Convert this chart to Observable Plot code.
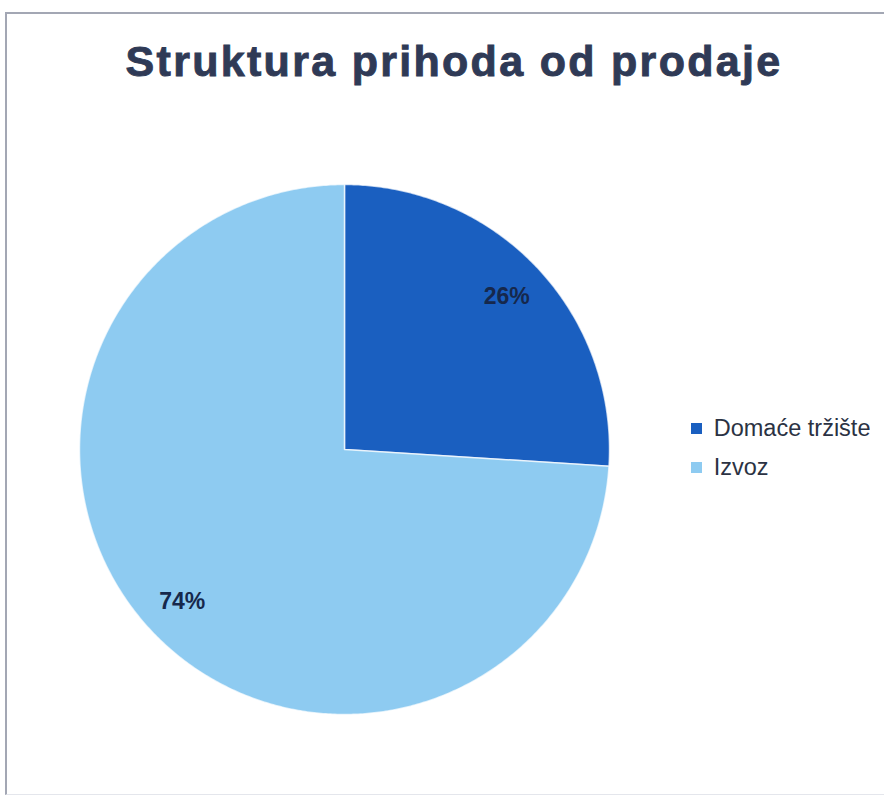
<!DOCTYPE html>
<html>
<head>
<meta charset="utf-8">
<script src="https://cdn.jsdelivr.net/npm/d3@7"></script>
<script src="https://cdn.jsdelivr.net/npm/@observablehq/plot@0.6"></script>
<style>
  html, body { margin: 0; padding: 0; background: #fff; }
  #wrap { position: relative; width: 884px; height: 799px; overflow: hidden; font-family: "Liberation Sans", Arial, sans-serif; }
  #frame { position: absolute; left: 5px; top: 12px; width: 900px; height: 783px;
           border-left: 2px solid #a3a7b4; border-top: 2px solid #a3a7b4; border-bottom: 1px solid #e4e6ec; box-sizing: border-box; }
  #title { position: relative; height: 100px; box-sizing: border-box; padding-top: 40px; padding-left: 24px;
           text-align: center; font-size: 43px; line-height: 43px; font-weight: bold; letter-spacing: 2.3px;
           color: #2f3a56; -webkit-text-stroke: 0.9px #2f3a56; }
  #chart { position: relative; }
  #legend { position: absolute; left: 691px; top: 415px; }
  #legend, #legend * { font-family: "Liberation Sans", Arial, sans-serif !important; }
  #legend .lg-swatch { font-size: 23.5px; color: #2b3243; margin-bottom: 11px; }
</style>
</head>
<body>
<div id="wrap">
  <div id="frame"></div>
  <div id="title">Struktura prihoda od prodaje</div>
  <div id="chart"></div>
  <div id="legend"></div>
</div>
<script>
// ---- data ----
const categories = ["Domaće tržište", "Izvoz"];
const values = [26, 74];
const labels = ["26%", "74%"];
const colors = ["#1a5fc0", "#8ecbf1"];

// ---- build slices (angles from data) ----
const total = d3.sum(values);
let acc = 0;
const slices = categories.map((name, i) => {
  const a0 = acc / total * 2 * Math.PI;
  acc += values[i];
  const a1 = acc / total * 2 * Math.PI;
  const ring = [[0, 0]];
  const n = Math.max(2, Math.ceil((a1 - a0) / (Math.PI / 360)));
  for (let k = 0; k <= n; k++) {
    const a = a0 + (a1 - a0) * k / n;
    ring.push([Math.sin(a), -Math.cos(a)]);
  }
  ring.push([0, 0]);
  const mid = (a0 + a1) / 2;
  return {
    type: "Feature",
    properties: {name, value: values[i], label: labels[i], lx: 0.84 * Math.sin(mid), ly: -0.84 * Math.cos(mid)},
    geometry: {type: "Polygon", coordinates: [ring]}
  };
});

const W = 884, H = 699;
const projection = d3.geoIdentity().scale(265).translate([344, 349]);

const plot = Plot.plot({
  width: W,
  height: H,
  margin: 0,
  projection,
  style: {background: "transparent", overflow: "visible"},
  color: {domain: categories, range: colors},
  marks: [
    Plot.geo(slices, {fill: d => d.properties.name, stroke: "#ffffff", strokeWidth: 1.5, strokeOpacity: 0.7}),
    Plot.text(slices, {
      x: d => d.properties.lx, y: d => d.properties.ly, text: d => d.properties.label,
      fill: "#16284c", fontSize: 23, fontWeight: "bold", fontFamily: "Liberation Sans, Arial, sans-serif"
    })
  ]
});
document.getElementById("chart").appendChild(plot);

const leg = plot.legend("color", {legend: "swatches", columns: 1, swatchSize: 11, className: "lg"});
document.getElementById("legend").appendChild(leg);
</script>
</body>
</html>
